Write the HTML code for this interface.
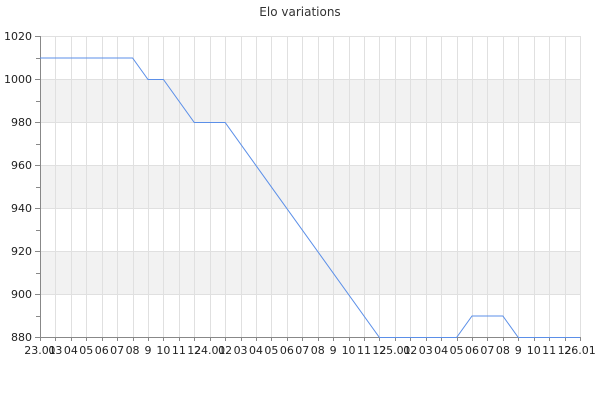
<!DOCTYPE html>
<html><head><meta charset="utf-8"><style>body{margin:0;background:#fff}</style></head><body>
<svg width="600" height="400" xmlns="http://www.w3.org/2000/svg" font-family="DejaVu Sans, sans-serif">
<rect width="600" height="400" fill="#fff"/>
<text x="300" y="16" text-anchor="middle" font-size="12" fill="#333">Elo variations</text>
<g id="bands" fill="#f2f2f2"></g>
<g id="grid" stroke="#e0e0e0" stroke-width="1"></g>
<g id="axes" stroke="#888" stroke-width="1"></g>
<g id="lbl" font-size="11" fill="#222"></g>
<polyline id="ln" fill="none" stroke="#5b8fe8" stroke-width="1"/>
</svg>
<script>
const ns="http://www.w3.org/2000/svg";
function el(p,t,a,txt){const e=document.createElementNS(ns,t);for(const k in a)e.setAttribute(k,a[k]);if(txt!==undefined)e.textContent=txt;document.getElementById(p).appendChild(e);}
const X0=40,X1=580,Y0=36,Y1=337;
const yv=v=>Y0+(1020-v)*(Y1-Y0)/140;
const xt=i=>X0+i*(X1-X0)/35;
[[1000,980],[960,940],[920,900]].forEach(([a,b])=>el("bands","rect",{x:X0,y:yv(a),width:X1-X0,height:yv(b)-yv(a)}));
for(let v=880;v<=1020;v+=20){el("grid","line",{x1:X0,x2:X1,y1:yv(v)+.5,y2:yv(v)+.5});}
for(let i=0;i<=35;i++){const x=Math.round(xt(i))+.5;el("grid","line",{x1:x,x2:x,y1:Y0,y2:Y1});}
el("axes","line",{x1:X0+.5,x2:X0+.5,y1:Y0,y2:Y1});
el("axes","line",{x1:X0,x2:X1,y1:Y1+.5,y2:Y1+.5});
for(let v=880;v<=1020;v+=10){const y=Math.round(yv(v))+.5;el("axes","line",{x1:v%20?36:35,x2:X0,y1:y,y2:y});
 if(v%20==0)el("lbl","text",{x:32,y:yv(v)+4,"text-anchor":"end"},String(v));}
const hrs=["02","03","04","05","06","07","08","9","10","11","12"];
const labs=["23.01",...hrs.slice(1),"24.01",...hrs,"25.01",...hrs,"26.01"];
labs.forEach((l,i)=>{const x=Math.round(xt(i))+.5;el("axes","line",{x1:x,x2:x,y1:Y1,y2:Y1+4});el("lbl","text",{x:xt(i),y:354,"text-anchor":"middle"},l);});
const d=[[0,1010],[6,1010],[7,1000],[8,1000],[10,980],[12,980],[22,880],[27,880],[28,890],[30,890],[31,880],[35,880]];
document.getElementById("ln").setAttribute("points",d.map(([i,v])=>xt(i)+","+(yv(v)+.5)).join(" "));
</script>
</body></html>
